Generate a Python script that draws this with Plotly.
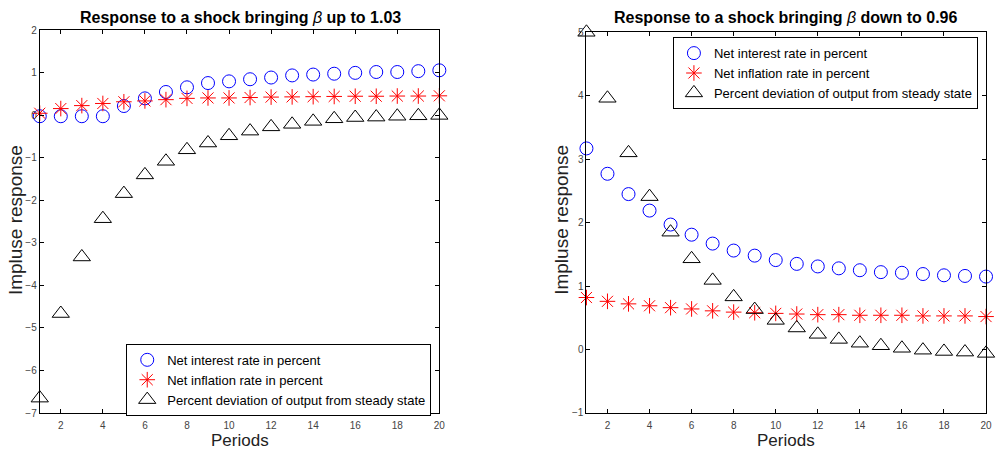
import plotly.graph_objects as go

periods = list(range(1, 21))

# Left panel: beta up to 1.03
up_interest = [-0.02, -0.02, -0.02, -0.02, 0.22, 0.40, 0.55, 0.66, 0.76, 0.80,
               0.85, 0.89, 0.94, 0.96, 0.98, 1.00, 1.02, 1.02, 1.04, 1.06]
up_inflation = [0.05, 0.16, 0.23, 0.28, 0.32, 0.34, 0.37, 0.40, 0.41, 0.41,
                0.42, 0.43, 0.435, 0.44, 0.445, 0.45, 0.45, 0.455, 0.455, 0.46]
up_output = [-6.65, -4.66, -3.33, -2.43, -1.84, -1.40, -1.08, -0.81, -0.65, -0.48,
             -0.37, -0.27, -0.21, -0.14, -0.08, -0.05, -0.04, -0.02, -0.01, 0.0]

# Right panel: beta down to 0.96
down_interest = [3.17, 2.77, 2.45, 2.19, 1.97, 1.81, 1.67, 1.56, 1.48, 1.41,
                 1.35, 1.31, 1.28, 1.25, 1.22, 1.21, 1.19, 1.17, 1.16, 1.15]
down_inflation = [0.82, 0.76, 0.72, 0.69, 0.66, 0.64, 0.61, 0.59, 0.58, 0.57,
                  0.56, 0.55, 0.55, 0.54, 0.54, 0.54, 0.53, 0.53, 0.53, 0.52]
down_output = [5.0, 3.96, 3.10, 2.41, 1.85, 1.43, 1.09, 0.83, 0.63, 0.46,
               0.34, 0.24, 0.16, 0.10, 0.06, 0.02, -0.01, -0.03, -0.04, -0.06]

names = ["Net interest rate in percent", "Net inflation rate in percent",
         "Percent deviation of output from steady state"]
x_ticks = list(range(2, 21, 2))
left_y_ticks = list(range(-7, 3))
right_y_ticks = list(range(-1, 6))

W, H = 997, 456
FONT = "Liberation Sans"

fig = go.Figure()

styles = [
    dict(symbol="circle-open", color="#0000ff", size=13, line=dict(width=1, color="#0000ff")),
    dict(symbol="asterisk-open", color="#ff0000", size=13, line=dict(width=1, color="#ff0000")),
    dict(symbol="triangle-up-open", color="#000000", size=15, line=dict(width=1, color="#000000")),
]

for i, ys in enumerate([up_interest, up_inflation, up_output]):
    fig.add_trace(go.Scatter(x=periods, y=ys, mode="markers", name=names[i],
                             marker=styles[i], xaxis="x", yaxis="y", legend="legend",
                             cliponaxis=False))
for i, ys in enumerate([down_interest, down_inflation, down_output]):
    fig.add_trace(go.Scatter(x=periods, y=ys, mode="markers", name=names[i],
                             marker=styles[i], xaxis="x2", yaxis="y2", legend="legend2",
                             cliponaxis=False))


def px_x(p):
    return p / W


def px_y(p):
    return 1 - p / H


axis_common = dict(showline=True, linecolor="black", linewidth=1, mirror="ticks",
                   ticks="inside", ticklen=4, tickcolor="black", showgrid=False,
                   zeroline=False, tickfont=dict(family=FONT, size=10, color="#444"))

legend_common = dict(xanchor="left", yanchor="top", bordercolor="black", borderwidth=1,
                     bgcolor="white", font=dict(family=FONT, size=13, color="black"),
                     tracegroupgap=0, itemwidth=30)

fig.update_layout(
    width=W, height=H, margin=dict(l=0, r=0, t=0, b=0),
    plot_bgcolor="white", paper_bgcolor="white",
    font=dict(family=FONT),
    xaxis=dict(domain=[px_x(40), px_x(442)], range=[1, 20], tickvals=x_ticks,
               anchor="y", ticklabelstandoff=3, **axis_common),
    yaxis=dict(domain=[px_y(418), px_y(25)], range=[-7, 2], tickvals=left_y_ticks,
               anchor="x", **axis_common),
    xaxis2=dict(domain=[px_x(590), px_x(992)], range=[1, 20], tickvals=x_ticks,
                anchor="y2", ticklabelstandoff=3, **axis_common),
    yaxis2=dict(domain=[px_y(418), px_y(27)], range=[-1, 5], tickvals=right_y_ticks,
                anchor="x2", **axis_common),
    legend=dict(x=px_x(127), y=px_y(347), **legend_common),
    legend2=dict(x=px_x(677), y=px_y(32), **legend_common),
    showlegend=True,
)

annotations = [
    dict(text="<b>Response to a shock bringing </b><i>β</i><b> up to 1.03</b>",
         x=px_x(242), y=px_y(12), font=dict(size=16, color="black")),
    dict(text="<b>Response to a shock bringing </b><i>β</i><b> down to 0.96</b>",
         x=px_x(791), y=px_y(12), font=dict(size=16, color="black")),
    dict(text="Periods", x=px_x(241), y=px_y(446), font=dict(size=17, color="#222")),
    dict(text="Periods", x=px_x(791), y=px_y(446), font=dict(size=17, color="#222")),
    dict(text="Impluse response", x=px_x(15), y=px_y(220), textangle=-90,
         font=dict(size=19, color="#222")),
    dict(text="Impluse response", x=px_x(565), y=px_y(220), textangle=-90,
         font=dict(size=19, color="#222")),
]
for a in annotations:
    a.update(xref="paper", yref="paper", showarrow=False, xanchor="center", yanchor="middle")
    a["font"]["family"] = FONT
fig.update_layout(annotations=annotations)

fig.write_html("out.html")
